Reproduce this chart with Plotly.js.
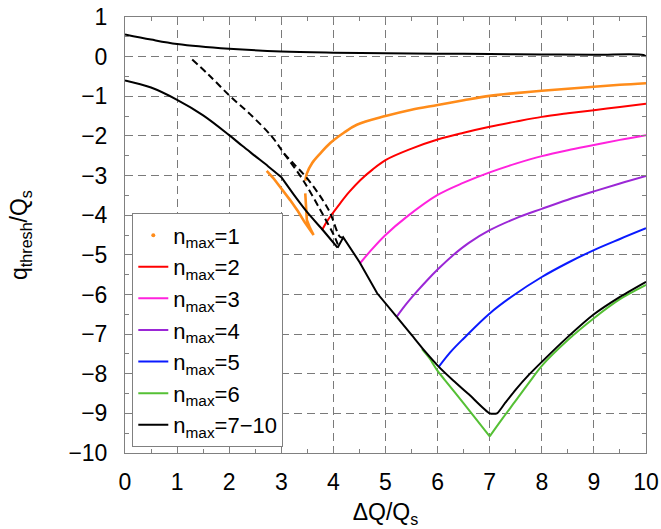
<!DOCTYPE html>
<html>
<head>
<meta charset="utf-8">
<script src="https://cdn.plot.ly/plotly-3.0.1.min.js"></script>
<style>html,body{margin:0;padding:0;background:#fff;}#chart{width:661px;height:529px;}</style>
</head>
<body>
<div id="chart"></div>
<script>
// n_max = 1 (orange, drawn as dots)
const orangeUpperX = [3.46, 3.49, 3.59, 3.75, 3.94, 4.2, 4.45, 5.0, 5.5, 6.0, 6.5, 7.0, 7.5, 8.0, 8.5, 9.0, 9.5, 10.0];
const orangeUpperY = [-3.13, -2.95, -2.69, -2.44, -2.18, -1.92, -1.72, -1.5, -1.34, -1.22, -1.1, -0.99, -0.92, -0.86, -0.81, -0.76, -0.71, -0.67];
const orangeLowerX = [3.46, 3.47, 3.49, 3.55, 3.62, 3.45, 3.32, 3.17, 3.0, 2.85, 2.72];
const orangeLowerY = [-3.45, -3.8, -4.12, -4.32, -4.5, -4.18, -3.9, -3.62, -3.33, -3.07, -2.88];
// n_max = 2
const redX = [3.78, 3.88, 3.97, 4.13, 4.3, 4.52, 4.75, 5.0, 5.5, 6.0, 6.5, 7.0, 7.5, 8.0, 8.5, 9.0, 9.5, 10.0];
const redY = [-4.38, -4.15, -3.98, -3.7, -3.42, -3.11, -2.85, -2.61, -2.32, -2.09, -1.92, -1.77, -1.64, -1.52, -1.43, -1.35, -1.27, -1.19];
// n_max = 3
const magentaX = [4.52, 4.7, 5.0, 5.4, 6.0, 6.5, 7.0, 7.5, 8.0, 8.5, 9.0, 9.5, 10.0];
const magentaY = [-5.2, -4.92, -4.5, -4.05, -3.49, -3.18, -2.92, -2.7, -2.51, -2.36, -2.23, -2.1, -1.98];
// n_max = 4
const purpleX = [5.21, 5.4, 5.6, 5.8, 6.0, 6.27, 6.6, 7.0, 7.5, 8.0, 8.5, 9.0, 9.5, 10.0];
const purpleY = [-6.57, -6.24, -5.93, -5.64, -5.37, -5.04, -4.7, -4.38, -4.08, -3.84, -3.61, -3.4, -3.2, -3.01];
// n_max = 5
const blueX = [6.02, 6.25, 6.5, 7.0, 7.46, 8.0, 8.5, 9.0, 9.5, 10.0];
const blueY = [-7.83, -7.45, -7.11, -6.48, -6.02, -5.56, -5.2, -4.88, -4.6, -4.33];
// n_max = 6
const greenX = [5.7, 5.85, 6.0, 6.14, 6.5, 7.0, 7.25, 7.5, 7.78, 8.0, 8.5, 9.0, 9.5, 10.0];
const greenY = [-7.38, -7.62, -7.93, -8.16, -8.75, -9.58, -9.12, -8.68, -8.18, -7.8, -7.15, -6.6, -6.12, -5.76];
// n_max = 7-10 (black)
const blackLowX = [0, 0.5, 1.0, 1.5, 2.0, 2.25, 2.5, 2.75, 3.0, 3.25, 3.5, 3.8, 4.08, 4.19, 4.5, 4.84, 5.22, 5.5, 5.78, 6.02, 6.3, 6.6, 7.0, 7.14, 7.3, 7.5, 7.75, 8.0, 8.5, 9.0, 9.5, 10.0];
const blackLowY = [-0.6, -0.78, -1.09, -1.48, -1.98, -2.25, -2.51, -2.77, -3.04, -3.5, -3.93, -4.38, -4.82, -4.56, -5.18, -5.97, -6.57, -7.02, -7.47, -7.82, -8.17, -8.52, -9.0, -9.0, -8.73, -8.4, -8.03, -7.7, -7.07, -6.5, -6.06, -5.68];
const blackTopX = [0, 0.5, 1, 2, 3, 4, 5, 6, 7, 8, 9, 9.95, 10];
const blackTopY = [0.56, 0.43, 0.32, 0.2, 0.13, 0.1, 0.085, 0.075, 0.065, 0.055, 0.045, 0.04, 0.0];
const dashAX = [1.29, 1.6, 2.02, 2.4, 2.82, 3.05, 3.4, 3.75, 4.04, 4.1];
const dashAY = [-0.07, -0.45, -1.0, -1.45, -2.02, -2.44, -3.08, -3.87, -4.59, -4.8];
const dashBX = [3.05, 3.25, 3.52, 3.91, 4.13, 4.19];
const dashBY = [-2.44, -2.72, -3.11, -3.87, -4.55, -4.56];

const legendNames = ['n<sub>max</sub>=1', 'n<sub>max</sub>=2', 'n<sub>max</sub>=3', 'n<sub>max</sub>=4', 'n<sub>max</sub>=5', 'n<sub>max</sub>=6', 'n<sub>max</sub>=7\u221210'];
const colors = ['#FF8C1A', '#FF0000', '#FF22DD', '#9B27D6', '#0A1AFF', '#55C035', '#000000'];

const lw = 2;
function ln(color, extra) { return Object.assign({color: color, width: lw, shape: 'spline', smoothing: 1}, extra || {}); }
function idx(arr, v) { return arr.indexOf(v); }
// piece of a series between two x values (inclusive)
function piece(xs, ys, x0, x1, line, extra) {
  const i0 = idx(xs, x0), i1 = idx(xs, x1);
  return Object.assign({x: xs.slice(i0, i1 + 1), y: ys.slice(i0, i1 + 1), mode: 'lines', line: line, showlegend: false}, extra || {});
}

const traces = [
  {x: orangeUpperX, y: orangeUpperY, mode: 'lines', line: ln(colors[0], {width: 2.6}), showlegend: false},
  {x: orangeLowerX, y: orangeLowerY, mode: 'lines', line: {color: colors[0], width: 2.6}, showlegend: false},
  {x: [null], y: [null], mode: 'markers', marker: {color: colors[0], size: 4}, name: legendNames[0], legendrank: 1},
  {x: redX, y: redY, mode: 'lines', line: ln(colors[1]), name: legendNames[1], legendrank: 2},
  {x: magentaX, y: magentaY, mode: 'lines', line: ln(colors[2]), name: legendNames[2], legendrank: 3},
  {x: purpleX, y: purpleY, mode: 'lines', line: ln(colors[3]), name: legendNames[3], legendrank: 4},
  {x: blueX, y: blueY, mode: 'lines', line: ln(colors[4]), name: legendNames[4], legendrank: 5},
  piece(greenX, greenY, 5.7, 7.0, ln(colors[5], {smoothing: 0.6})),
  piece(greenX, greenY, 7.0, 10.0, ln(colors[5], {smoothing: 0.8})),
  {x: [null], y: [null], mode: 'lines', line: {color: colors[5], width: lw}, name: legendNames[5], legendrank: 6},
  {x: blackTopX, y: blackTopY, mode: 'lines', line: ln(colors[6]), showlegend: false},
  {x: dashAX, y: dashAY, mode: 'lines', line: ln(colors[6], {dash: '7px,4px'}), showlegend: false},
  {x: dashBX, y: dashBY, mode: 'lines', line: ln(colors[6], {dash: '7px,4px'}), showlegend: false},
  piece(blackLowX, blackLowY, 0, 3.0, ln(colors[6])),
  piece(blackLowX, blackLowY, 3.0, 4.08, ln(colors[6], {smoothing: 0.6})),
  piece(blackLowX, blackLowY, 4.08, 5.22, {color: colors[6], width: lw}),
  piece(blackLowX, blackLowY, 5.22, 10.0, ln(colors[6], {smoothing: 0.6})),
  {x: [null], y: [null], mode: 'lines', line: {color: colors[6], width: lw}, name: legendNames[6], legendrank: 7}
];

const fontFam = 'Liberation Sans, Arial, sans-serif';
const axisCommon = {
  showgrid: true, gridcolor: '#7a7a7a', griddash: '8px,5px', gridwidth: 1,
  showline: true, linecolor: '#808080', linewidth: 1, mirror: 'ticks',
  ticks: 'inside', ticklen: 5, tickcolor: '#808080', tickwidth: 1,
  minor: {dtick: 0.5, ticks: 'inside', ticklen: 4, tickcolor: '#808080', showgrid: false},
  zeroline: false, tickfont: {family: fontFam, size: 23, color: '#000'},
  dtick: 1, fixedrange: true
};

const layout = {
  width: 661, height: 529,
  margin: {l: 125, r: 15, t: 17, b: 76},
  paper_bgcolor: '#fff', plot_bgcolor: '#fff',
  font: {family: fontFam, color: '#000'},
  xaxis: Object.assign({}, axisCommon, {range: [0, 10], tick0: 0, ticklabelstandoff: 8,
    title: {text: '\u0394Q/Q<sub>s</sub>', font: {family: fontFam, size: 23}, standoff: 10}}),
  yaxis: Object.assign({}, axisCommon, {range: [-10, 1], tick0: 0, ticklabelstandoff: 12,
    title: {text: 'q<sub>thresh</sub>/Q<sub>s</sub>', font: {family: fontFam, size: 23}, standoff: 34}}),
  legend: {x: 0.014, y: 0.013, xanchor: 'left', yanchor: 'bottom', bgcolor: '#fff',
    bordercolor: '#808080', borderwidth: 1, font: {family: fontFam, size: 22, color: '#000'},
    tracegroupgap: 0, itemwidth: 30},
  showlegend: true
};

Plotly.newPlot('chart', traces, layout, {staticPlot: true, displayModeBar: false});
</script>
</body>
</html>
